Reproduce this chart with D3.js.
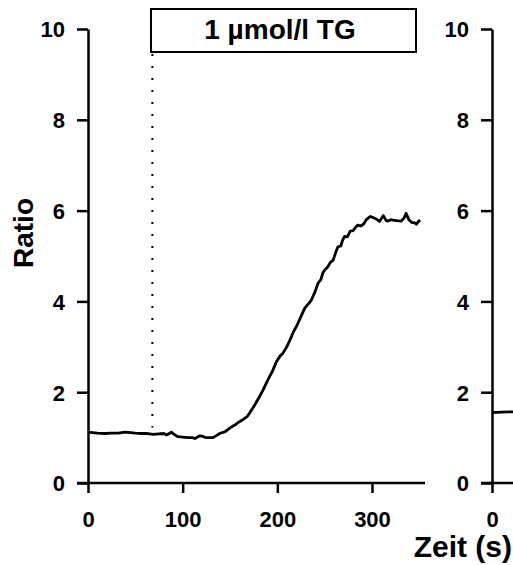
<!DOCTYPE html>
<html>
<head>
    <meta charset="utf-8">
    <style>
        html, body {
            margin: 0;
            background-color: white;
        }
        text {
            font-family: Arial, 'Liberation Sans', sans-serif;
            font-weight: bold;
            fill: black;
        }
        .axis path, .axis line {
            stroke: black;
            stroke-width: 2.5px;
        }
    </style>
</head>
<body>

    <svg id="chart" width="513" height="565"></svg>

    <script src="https://d3js.org/d3.v7.min.js"></script>

    <script>
        // time (s) and ratio, left trace
        var timeLeft = [0, 5, 10, 18, 25, 32, 39, 45, 50, 57, 63, 69, 75, 80, 83, 86, 88, 91, 95, 100,
            106, 110, 113, 118, 121, 124, 128, 132, 136, 139, 145, 148, 152, 156, 160, 164, 168, 171, 175, 180,
            185, 190, 195, 199, 203, 206, 210, 214, 217, 221, 225, 229, 233, 236, 240, 243, 246, 248, 250, 253,
            256, 259, 262, 264, 267, 269, 271, 274, 277, 280, 283, 285, 288, 291, 294, 298, 301, 305, 308, 312,
            315, 317, 320, 322, 326, 331, 334, 336, 339, 342, 345, 347, 349, 351];
        var ratioLeft = [1.12, 1.11, 1.10, 1.09, 1.10, 1.10, 1.12, 1.11, 1.10, 1.09, 1.09, 1.07, 1.08, 1.09, 1.06, 1.09, 1.12, 1.07, 1.02, 1.01,
            1.00, 1.00, 0.98, 1.04, 1.03, 1.00, 1.00, 1.00, 1.05, 1.09, 1.13, 1.18, 1.24, 1.29, 1.35, 1.40, 1.46, 1.55, 1.68, 1.86,
            2.05, 2.27, 2.47, 2.67, 2.80, 2.86, 3.00, 3.18, 3.33, 3.48, 3.67, 3.85, 3.95, 4.03, 4.22, 4.40, 4.48, 4.62, 4.69, 4.75,
            4.86, 4.91, 5.10, 5.20, 5.22, 5.35, 5.43, 5.42, 5.55, 5.56, 5.64, 5.68, 5.66, 5.70, 5.80, 5.87, 5.85, 5.81, 5.76, 5.89,
            5.78, 5.77, 5.80, 5.79, 5.78, 5.77, 5.84, 5.94, 5.80, 5.74, 5.73, 5.70, 5.76, 5.79];

        // right trace (only its start is visible)
        var timeRight = [0, 10, 25];
        var ratioRight = [1.55, 1.56, 1.57];

        var yTicks = [0, 2, 4, 6, 8, 10];
        var xTicksLeft = [0, 100, 200, 300];
        var xTicksRight = [0];
        var stimulusTime = 68;
        var stimulusLabel = "1 µmol/l TG";

        var svg = d3.select("#chart");

        var y = d3.scaleLinear().domain([0, 10]).range([483, 29]);

        function panel(x0, times, ratios, xTicks) {
            var x = d3.scaleLinear().domain([0, 356]).range([x0, x0 + 337]);
            var g = svg.append("g");

            var yAxis = g.append("g")
                .attr("class", "axis")
                .attr("transform", "translate(" + x0 + ",0)")
                .call(d3.axisLeft(y).tickValues(yTicks).tickSize(11).tickSizeOuter(0).tickPadding(12));
            yAxis.selectAll("text").style("font-size", "22px").attr("dy", "0.36em");

            var xAxis = g.append("g")
                .attr("class", "axis")
                .attr("transform", "translate(0," + y(0) + ")")
                .call(d3.axisBottom(x).tickValues(xTicks).tickSize(10).tickSizeOuter(0).tickPadding(18));
            xAxis.selectAll("text").style("font-size", "22px");
            xAxis.select(".domain").attr("d", "M" + (x0 - 11) + ",0H" + (x0 + 337));

            var pts = times.map(function(t, i) { return [t, ratios[i]]; });
            g.append("path")
                .datum(pts)
                .attr("fill", "none")
                .attr("stroke", "black")
                .attr("stroke-width", 2.8)
                .attr("stroke-linejoin", "round")
                .attr("d", d3.line()
                    .x(function(d) { return x(d[0]); })
                    .y(function(d) { return y(d[1]); }));
            return x;
        }

        var xLeft = panel(88, timeLeft, ratioLeft, xTicksLeft);
        panel(492, timeRight, ratioRight, xTicksRight);

        // stimulus marker
        svg.append("line")
            .attr("x1", xLeft(stimulusTime)).attr("x2", xLeft(stimulusTime))
            .attr("y1", 54).attr("y2", y(1.22))
            .attr("stroke", "black")
            .attr("stroke-width", 2)
            .attr("stroke-dasharray", "2,10");

        svg.append("rect")
            .attr("x", 151).attr("y", 9)
            .attr("width", 265).attr("height", 43)
            .attr("fill", "white")
            .attr("stroke", "black")
            .attr("stroke-width", 2);

        svg.append("text")
            .attr("x", 280).attr("y", 39)
            .attr("text-anchor", "middle")
            .style("font-size", "28px")
            .text(stimulusLabel);

        svg.append("text")
            .attr("transform", "translate(33,233) rotate(-90)")
            .attr("text-anchor", "middle")
            .style("font-size", "28px")
            .text("Ratio");

        svg.append("text")
            .attr("x", 512).attr("y", 557)
            .attr("text-anchor", "end")
            .style("font-size", "30px")
            .text("Zeit (s)");
    </script>
</body>
</html>
